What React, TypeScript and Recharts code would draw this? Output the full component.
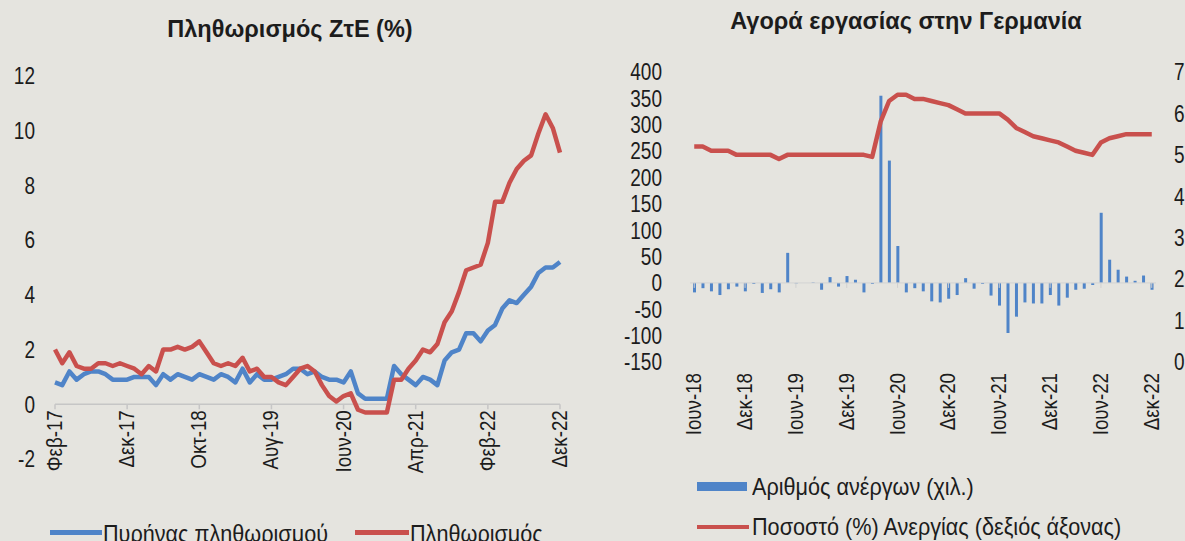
import React from 'react';
import {
    LineChart,
    ComposedChart,
    Line,
    Bar,
    XAxis,
    YAxis,
    ReferenceLine
} from 'recharts';

const MONTHS = ['Ιαν', 'Φεβ', 'Μαρ', 'Απρ', 'Μαϊ', 'Ιουν', 'Ιουλ', 'Αυγ', 'Σεπ', 'Οκτ', 'Νοε', 'Δεκ'];

// month labels like "Φεβ-17"
const makeMonths = (year: number, month: number, count: number) => {
    const out: string[] = [];
    for (let i = 0; i < count; i++) {
        const m = (month + i) % 12;
        const y = year + Math.floor((month + i) / 12);
        out.push(`${MONTHS[m]}-${String(y).slice(2)}`);
    }
    return out;
};

// Feb-17 .. Dec-22
const inflationMonths = makeMonths(2017, 1, 71);

const coreInflation = [
    0.8, 0.7, 1.2, 0.9, 1.1, 1.2, 1.2, 1.1, 0.9, 0.9, 0.9,
    1.0, 1.0, 1.0, 0.7, 1.1, 0.9, 1.1, 1.0, 0.9, 1.1, 1.0, 0.9,
    1.1, 1.0, 0.8, 1.3, 0.8, 1.1, 0.9, 0.9, 1.0, 1.1, 1.3, 1.3,
    1.1, 1.2, 1.0, 0.9, 0.9, 0.8, 1.2, 0.4, 0.2, 0.2, 0.2, 0.2,
    1.4, 1.1, 0.9, 0.7, 1.0, 0.9, 0.7, 1.6, 1.9, 2.0, 2.6, 2.6,
    2.3, 2.7, 2.9, 3.5, 3.8, 3.7, 4.0, 4.3, 4.8, 5.0, 5.0, 5.2
];

const headlineInflation = [
    2.0, 1.5, 1.9, 1.4, 1.3, 1.3, 1.5, 1.5, 1.4, 1.5, 1.4,
    1.3, 1.1, 1.4, 1.2, 2.0, 2.0, 2.1, 2.0, 2.1, 2.3, 1.9, 1.5,
    1.4, 1.5, 1.4, 1.7, 1.2, 1.3, 1.0, 1.0, 0.8, 0.7, 1.0, 1.3,
    1.4, 1.2, 0.7, 0.3, 0.1, 0.3, 0.4, -0.2, -0.3, -0.3, -0.3, -0.3,
    0.9, 0.9, 1.3, 1.6, 2.0, 1.9, 2.2, 3.0, 3.4, 4.1, 4.9, 5.0,
    5.1, 5.9, 7.4, 7.4, 8.1, 8.6, 8.9, 9.1, 9.9, 10.6, 10.1, 9.2
];

const inflationTicks = [-2, 0, 2, 4, 6, 8, 10, 12];

// Jun-18 .. Dec-22
const labourMonths = makeMonths(2018, 5, 55);

// monthly change in unemployed (thousands)
const unemployedChange = [
    -18, -10, -16, -23, -12, -7, -16,
    -2, -19, -12, -18, 57, -1, 0, 1, -13, 11, -7, 13,
    6, -18, -2, 355, 232, 70, -18, -10, -16, -35, -37, -30,
    -23, 9, -11, -2, -24, -43, -95, -64, -37, -39, -39, -23,
    -43, -28, -13, -11, -4, 133, 44, 25, 12, 4, 14, -13
];

// unemployment rate (%)
const unemploymentRate = [
    5.2, 5.2, 5.1, 5.1, 5.1, 5.0, 5.0,
    5.0, 5.0, 5.0, 4.9, 5.0, 5.0, 5.0, 5.0, 5.0, 5.0, 5.0, 5.0,
    5.0, 5.0, 4.95, 5.8, 6.3, 6.45, 6.45, 6.35, 6.35, 6.3, 6.25, 6.2,
    6.1, 6.0, 6.0, 6.0, 6.0, 6.0, 5.85, 5.65, 5.55, 5.45, 5.4, 5.35,
    5.3, 5.2, 5.1, 5.05, 5.0, 5.3, 5.4, 5.45, 5.5, 5.5, 5.5, 5.5
];

const changeTicks = [-150, -100, -50, 0, 50, 100, 150, 200, 250, 300, 350, 400];
const rateTicks = [0, 1, 2, 3, 4, 5, 6, 7];

const BLUE = '#4f84c8';
const RED = '#c9504d';
const TEXT = '#1c1c1c';
const BG = '#e5e4df';
const FONT = '"Liberation Sans", Arial, sans-serif';

const inflationData = inflationMonths.map((m, i) => ({
    month: m,
    core: coreInflation[i],
    headline: headlineInflation[i]
}));

const labourData = labourMonths.map((m, i) => ({
    month: m,
    change: unemployedChange[i],
    rate: unemploymentRate[i]
}));

// plot geometry
const INF_TOP = 76;
const INF_BOTTOM = 459;
const INF_ZERO_Y = INF_TOP + (INF_BOTTOM - INF_TOP) * 12 / 14;

const LAB_TOP = 72;
const LAB_BOTTOM = 362;
const LAB_ZERO_Y = LAB_TOP + (LAB_BOTTOM - LAB_TOP) * 400 / 550;

// the excel source uses a tall, narrow face: stretch the glyphs vertically
const STRETCH = 1.22;

const VerticalLabel = ({ x, y, value }: { x: number; y: number; value: string }) => (
    <text
        transform={`translate(${x + 7},${y}) rotate(-90) scale(1.04,${STRETCH})`}
        textAnchor="end"
        fontSize={18}
        fontFamily={FONT}
        fill={TEXT}
    >
        {value}
    </text>
);

const InflationTick = (props: any) => {
    const { x, payload } = props;
    return (
        <g>
            <line x1={x} x2={x} y1={INF_ZERO_Y} y2={INF_ZERO_Y + 5} stroke="#c6c6c6" strokeWidth={1.5} />
            <VerticalLabel x={x} y={INF_ZERO_Y + 6} value={payload.value} />
        </g>
    );
};

const LabourTick = (props: any) => {
    const { x, payload } = props;
    return (
        <g>
            <line x1={x} x2={x} y1={LAB_ZERO_Y} y2={LAB_ZERO_Y + 5} stroke="#d0d0d0" strokeWidth={1} />
            <VerticalLabel x={x} y={LAB_BOTTOM + 11} value={payload.value} />
        </g>
    );
};

const makeYTick = (anchor: 'start' | 'end') => (props: any) => {
    const { x, y, payload } = props;
    return (
        <text
            transform={`translate(${x},${y}) scale(1,${STRETCH})`}
            dy="0.36em"
            textAnchor={anchor}
            fontSize={19}
            fontFamily={FONT}
            fill={TEXT}
        >
            {payload.value}
        </text>
    );
};

const titleStyle: React.CSSProperties = {
    position: 'absolute',
    fontFamily: FONT,
    fontWeight: 'bold',
    fontSize: 21,
    color: TEXT,
    whiteSpace: 'nowrap',
    transform: `translateX(-50%) scale(1.12, 1.1)`
};

const legendText: React.CSSProperties = {
    position: 'absolute',
    fontFamily: FONT,
    fontSize: 21,
    color: TEXT,
    whiteSpace: 'nowrap',
    lineHeight: '24px',
    transformOrigin: 'left center',
    transform: 'scale(1.03, 1.15)'
};

const App: React.FC = () => {
    return (
        <div style={{
            position: 'absolute',
            left: 0,
            top: 0,
            width: 1185,
            height: 541,
            background: BG,
            overflow: 'hidden'
        }}>
            <div style={{ ...titleStyle, left: 290, top: 17 }}>Πληθωρισμός ΖτΕ (%)</div>
            <div style={{ ...titleStyle, left: 906, top: 9 }}>Αγορά εργασίας στην Γερμανία</div>

            {/* left: euro area inflation */}
            <div style={{ position: 'absolute', left: 0, top: 0 }}>
                <LineChart
                    width={600}
                    height={541}
                    data={inflationData}
                    margin={{ top: INF_TOP, right: 40, bottom: 0, left: 0 }}
                >
                    <XAxis
                        dataKey="month"
                        interval={9}
                        axisLine={false}
                        tickLine={false}
                        height={541 - INF_BOTTOM}
                        tick={<InflationTick />}
                    />
                    <YAxis
                        type="number"
                        domain={[-2, 12]}
                        ticks={inflationTicks}
                        interval={0}
                        width={55}
                        axisLine={false}
                        tickLine={false}
                        tickSize={0}
                        tickMargin={20}
                        tick={makeYTick('end')}
                    />
                    <ReferenceLine y={0} stroke="#c6c6c6" strokeWidth={1.5} />
                    <Line
                        dataKey="core"
                        stroke={BLUE}
                        strokeWidth={4.5}
                        strokeLinejoin="round"
                        dot={false}
                        isAnimationActive={false}
                    />
                    <Line
                        dataKey="headline"
                        stroke={RED}
                        strokeWidth={4.5}
                        strokeLinejoin="round"
                        dot={false}
                        isAnimationActive={false}
                    />
                </LineChart>
            </div>

            {/* right: German labour market */}
            <div style={{ position: 'absolute', left: 600, top: 0 }}>
                <ComposedChart
                    width={585}
                    height={541}
                    data={labourData}
                    margin={{ top: LAB_TOP, right: 0, bottom: 0, left: 0 }}
                    barCategoryGap={0}
                >
                    <XAxis
                        dataKey="month"
                        interval={5}
                        axisLine={false}
                        tickLine={false}
                        height={541 - LAB_BOTTOM}
                        tick={<LabourTick />}
                    />
                    <YAxis
                        yAxisId="left"
                        type="number"
                        domain={[-150, 400]}
                        ticks={changeTicks}
                        interval={0}
                        width={90}
                        axisLine={false}
                        tickLine={false}
                        tickSize={0}
                        tickMargin={28}
                        tick={makeYTick('end')}
                    />
                    <YAxis
                        yAxisId="right"
                        orientation="right"
                        type="number"
                        domain={[0, 7]}
                        ticks={rateTicks}
                        interval={0}
                        width={29}
                        axisLine={false}
                        tickLine={false}
                        tickSize={0}
                        tickMargin={18}
                        tick={makeYTick('start')}
                    />
                    <ReferenceLine yAxisId="left" y={0} stroke="#d4d4d4" strokeWidth={1} />
                    <Bar
                        yAxisId="left"
                        dataKey="change"
                        fill={BLUE}
                        barSize={3}
                        isAnimationActive={false}
                    />
                    <Line
                        yAxisId="right"
                        dataKey="rate"
                        stroke={RED}
                        strokeWidth={4.5}
                        strokeLinejoin="round"
                        dot={false}
                        isAnimationActive={false}
                    />
                </ComposedChart>
            </div>

            {/* legends */}
            <div style={{ position: 'absolute', left: 50, top: 530, width: 52, height: 5, background: BLUE }} />
            <div style={{ ...legendText, left: 103, top: 522 }}>Πυρήνας πληθωρισμού</div>
            <div style={{ position: 'absolute', left: 355, top: 530, width: 54, height: 5, background: RED }} />
            <div style={{ ...legendText, left: 410, top: 522 }}>Πληθωρισμός</div>

            <div style={{ position: 'absolute', left: 697, top: 482, width: 50, height: 9, background: BLUE }} />
            <div style={{ ...legendText, left: 752, top: 475 }}>Αριθμός ανέργων (χιλ.)</div>
            <div style={{ position: 'absolute', left: 697, top: 525, width: 52, height: 4, background: RED }} />
            <div style={{ ...legendText, left: 752, top: 515 }}>Ποσοστό (%) Ανεργίας (δεξιός άξονας)</div>
        </div>
    );
};

export default App;
